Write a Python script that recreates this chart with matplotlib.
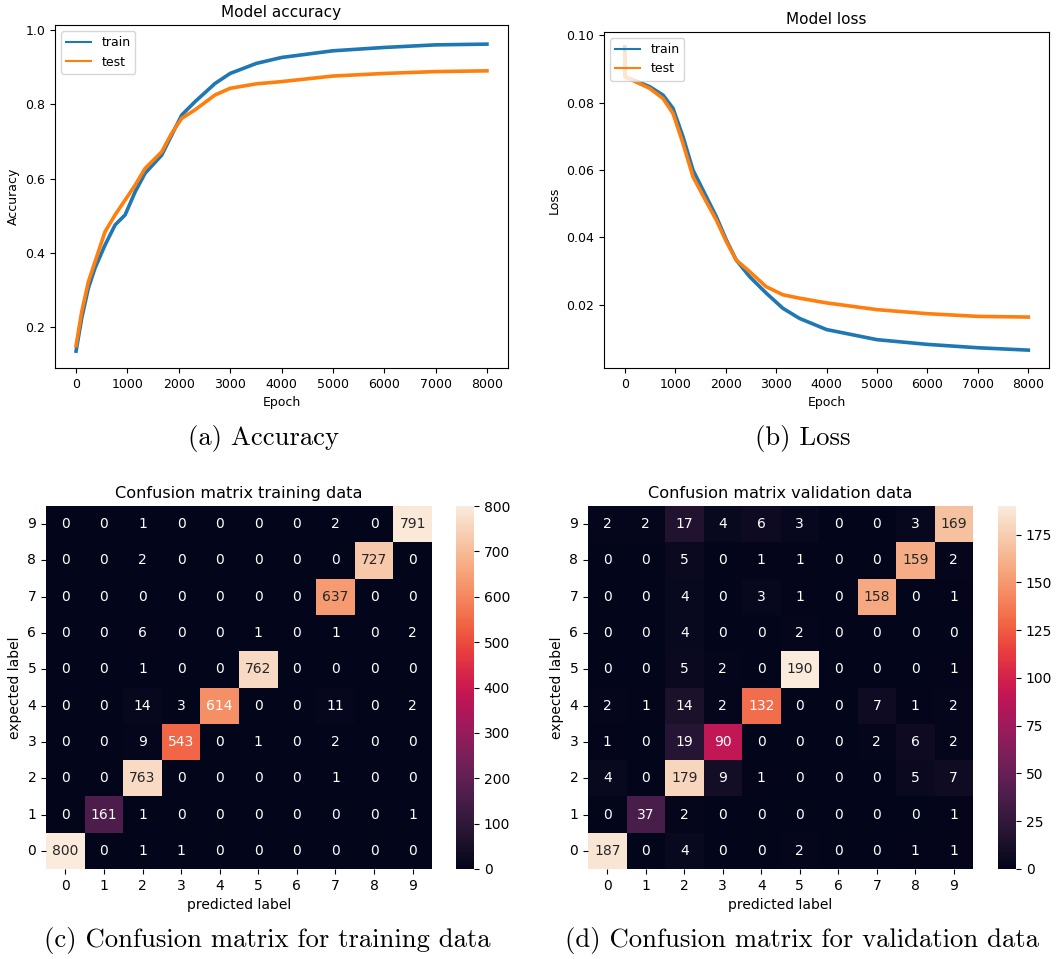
import numpy as np
import matplotlib
matplotlib.use("Agg")
import matplotlib.pyplot as plt
import seaborn as sns

# ---- training history (sampled epochs) ----
epochs_acc = [0, 110, 240, 370, 565, 760, 955, 1150, 1343, 1668, 1862, 2057, 2317, 2706,
              3000, 3510, 4000, 5000, 6000, 7000, 8000]
acc_train = [0.135, 0.224, 0.305, 0.359, 0.421, 0.475, 0.502, 0.564, 0.614, 0.663, 0.717,
             0.771, 0.807, 0.856, 0.883, 0.910, 0.926, 0.944, 0.953, 0.960, 0.962]
acc_test = [0.150, 0.241, 0.322, 0.376, 0.457, 0.502, 0.542, 0.582, 0.627, 0.672, 0.722,
            0.762, 0.785, 0.825, 0.843, 0.855, 0.861, 0.876, 0.883, 0.888, 0.890]

epochs_loss = [0, 10, 165, 495, 759, 957, 1155, 1353, 1617, 1815, 2013, 2211, 2475, 2805,
               3135, 3465, 4000, 5000, 6000, 7000, 8000]
loss_train = [0.0965, 0.0876, 0.0867, 0.0847, 0.0822, 0.0783, 0.0699, 0.0600, 0.0521,
              0.0462, 0.0393, 0.0333, 0.0284, 0.0235, 0.0190, 0.0160, 0.0127, 0.0097,
              0.0083, 0.0073, 0.0066]
loss_test = [0.0945, 0.0876, 0.0865, 0.0842, 0.0812, 0.0768, 0.0679, 0.0580, 0.0506,
             0.0452, 0.0388, 0.0333, 0.0299, 0.0254, 0.0230, 0.0220, 0.0206, 0.0186,
             0.0174, 0.0166, 0.0164]

# ---- confusion matrices (row = expected label, column = predicted label) ----
labels = list(range(10))
cm_train = [
    [800, 0, 1, 1, 0, 0, 0, 0, 0, 0],
    [0, 161, 1, 0, 0, 0, 0, 0, 0, 1],
    [0, 0, 763, 0, 0, 0, 0, 1, 0, 0],
    [0, 0, 9, 543, 0, 1, 0, 2, 0, 0],
    [0, 0, 14, 3, 614, 0, 0, 11, 0, 2],
    [0, 0, 1, 0, 0, 762, 0, 0, 0, 0],
    [0, 0, 6, 0, 0, 1, 0, 1, 0, 2],
    [0, 0, 0, 0, 0, 0, 0, 637, 0, 0],
    [0, 0, 2, 0, 0, 0, 0, 0, 727, 0],
    [0, 0, 1, 0, 0, 0, 0, 2, 0, 791],
]
cm_val = [
    [187, 0, 4, 0, 0, 2, 0, 0, 1, 1],
    [0, 37, 2, 0, 0, 0, 0, 0, 0, 1],
    [4, 0, 179, 9, 1, 0, 0, 0, 5, 7],
    [1, 0, 19, 90, 0, 0, 0, 2, 6, 2],
    [2, 1, 14, 2, 132, 0, 0, 7, 1, 2],
    [0, 0, 5, 2, 0, 190, 0, 0, 0, 1],
    [0, 0, 4, 0, 0, 2, 0, 0, 0, 0],
    [0, 0, 4, 0, 3, 1, 0, 158, 0, 1],
    [0, 0, 5, 0, 1, 1, 0, 0, 159, 2],
    [2, 2, 17, 4, 6, 3, 0, 0, 3, 169],
]

W, H = 1060, 959
fig = plt.figure(figsize=(W / 100, H / 100), dpi=100)


def px_axes(x0, y0, x1, y1):
    """Axes from pixel box (left, top, right, bottom)."""
    return fig.add_axes([x0 / W, 1 - y1 / H, (x1 - x0) / W, (y1 - y0) / H])


TICK = 9
BLUE, ORANGE = "#1f77b4", "#ff7f0e"


def history(ax, x, train, test):
    ax.plot(x, train, color=BLUE, lw=2.6, label="train")
    ax.plot(x, test, color=ORANGE, lw=2.6, label="test")
    ax.set_xlim(-410, 8410)
    ax.set_xticks(range(0, 8001, 1000))
    ax.tick_params(labelsize=TICK)
    leg = ax.legend(loc="upper left", fontsize=TICK)
    for line in leg.get_lines():
        line.set_linewidth(1.5)


# (a) accuracy
ax = px_axes(55, 25, 508, 368)
history(ax, epochs_acc, acc_train, acc_test)
ax.set_ylim(0.0896, 1.0135)
ax.set_yticks([0.2, 0.4, 0.6, 0.8, 1.0])
ax.set_title("Model accuracy", fontsize=11)
ax.set_xlabel("Epoch", fontsize=TICK)
ax.set_ylabel("Accuracy", fontsize=TICK)

# (b) loss
ax = px_axes(604, 32, 1049, 368)
history(ax, epochs_loss, loss_train, loss_test)
ax.set_ylim(0.0013, 0.1009)
ax.set_yticks([0.02, 0.04, 0.06, 0.08, 0.10])
ax.set_yticklabels(["0.02", "0.04", "0.06", "0.08", "0.10"])
ax.set_title("Model loss", fontsize=11)
ax.set_xlabel("Epoch", fontsize=TICK)
ax.set_ylabel("Loss", fontsize=TICK)


def confusion(ax, cax, cm, title):
    sns.heatmap(np.array(cm), ax=ax, cbar_ax=cax, annot=True, fmt="d", cmap="rocket",
                xticklabels=labels, yticklabels=labels, annot_kws={"fontsize": 10})
    ax.invert_yaxis()
    ax.set_yticklabels(labels, rotation=0)
    ax.tick_params(labelsize=10)
    cax.tick_params(labelsize=10)
    ax.set_title(title, fontsize=11.6)
    ax.set_xlabel("predicted label", fontsize=10)
    ax.set_ylabel("expected label", fontsize=10)


# (c) training confusion matrix
confusion(px_axes(46, 506, 432, 869), px_axes(456, 506, 474, 869), cm_train,
          "Confusion matrix training data")
# (d) validation confusion matrix
confusion(px_axes(588, 506, 973, 869), px_axes(998, 506, 1016, 869), cm_val,
          "Confusion matrix validation data")

# sub-figure captions
cap = dict(fontsize=19.2, family="cmr10", ha="center", va="center")
fig.text(263 / W, 1 - 438 / H, "(a) Accuracy", **cap)
fig.text(803 / W, 1 - 438 / H, "(b) Loss", **cap)
fig.text(267 / W, 1 - 941 / H, "(c) Confusion matrix for training data", **cap)
fig.text(802 / W, 1 - 941 / H, "(d) Confusion matrix for validation data", **cap)

fig.savefig("out.png", dpi=100)
